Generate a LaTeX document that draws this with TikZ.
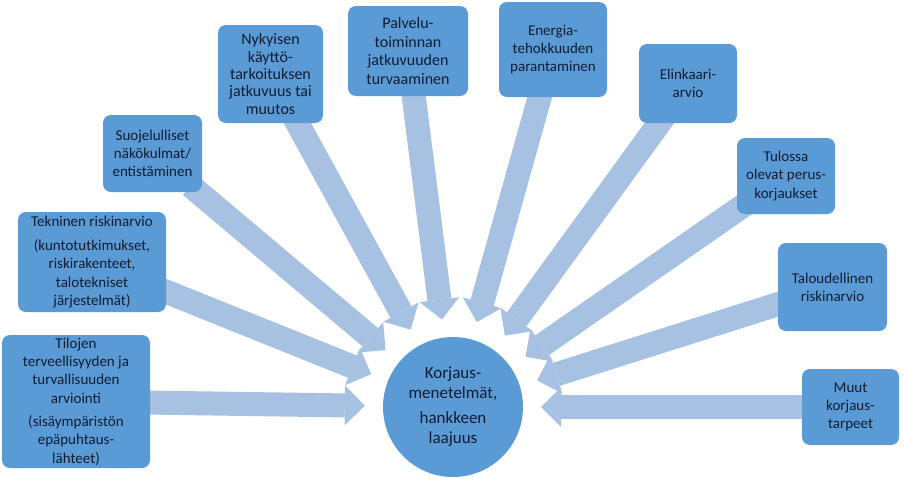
\documentclass[tikz,border=0pt]{standalone}
\usepackage{fontspec}
\setmainfont{Carlito}
\usepackage{xcolor}
\usepackage{tikz}
\usetikzlibrary{arrows.meta,backgrounds}
\definecolor{B0}{HTML}{5B9BD5}
\definecolor{A0}{HTML}{A7C1E2}
\definecolor{T0}{HTML}{0E1C33}

\begin{document}
\begin{tikzpicture}[x=1pt,y=-1pt,
  idea/.style={fill=B0, rounded corners=8pt, align=center, inner sep=1pt, text=T0, font=\fontsize{15}{18.3}\selectfont},
  tight/.style={font=\fontsize{16}{17.3}\selectfont},
  flow/.style={line width=24pt, A0, -{Triangle[length=20pt,width=40pt,line width=0pt]}, shorten >=18pt, shorten <=-10pt}]%
\useasboundingbox (0,0) rectangle (904,482);%
\node[circle, fill=B0, minimum size=140pt, align=center, text=T0, font=\fontsize{17}{20}\selectfont] (korjaus) at (453,407) {Korjaus-\\menetelmät,\\[5pt]hankkeen\\laajuus};%
\node[idea, minimum width=148pt, minimum height=133pt] (tilojen) at (76,401.5) {Tilojen\\terveellisyyden ja\\turvallisuuden\\arviointi\\[5pt](sisäympäristön\\epäpuhtaus-\\lähteet)};%
\node[idea, minimum width=148pt, minimum height=100pt] (tekninen) at (92,262) {Tekninen riskinarvio\\[6pt](kuntotutkimukset,\\riskirakenteet,\\talotekniset\\järjestelmät)};%
\node[idea, minimum width=99pt, minimum height=77pt] (suojelu) at (152.5,153.5) {Suojelulliset\\näkökulmat/\\entistäminen};%
\node[idea, tight, minimum width=105pt, minimum height=98pt] (nykyinen) at (270.5,74) {Nykyisen\\käyttö-\\tarkoituksen\\jatkuvuus tai\\muutos};%
\node[idea, font=\fontsize{16}{18.8}\selectfont, minimum width=120pt, minimum height=90pt] (palvelu) at (408,51) {Palvelu-\\toiminnan\\jatkuvuuden\\turvaaminen};%
\node[idea, minimum width=108pt, minimum height=95pt] (energia) at (553,49.5) {Energia-\\tehokkuuden\\parantaminen};%
\node[idea, minimum width=98pt, minimum height=79pt] (elinkaari) at (688,83.5) {Elinkaari-\\arvio};%
\node[idea, minimum width=98pt, minimum height=76pt] (tulossa) at (786,176) {Tulossa\\olevat perus-\\korjaukset};%
\node[idea, minimum width=109pt, minimum height=88pt] (talous) at (832.5,287) {Taloudellinen\\riskinarvio};%
\node[idea, minimum width=97pt, minimum height=76pt] (muut) at (850.5,407) {Muut\\korjaus-\\tarpeet};%
\begin{scope}[on background layer]%
\foreach \src in {tilojen,tekninen,suojelu,nykyinen,palvelu,energia,elinkaari,tulossa,talous,muut}
  \draw[flow] (\src) -- (korjaus);%
\end{scope}%
\end{tikzpicture}
\end{document}
